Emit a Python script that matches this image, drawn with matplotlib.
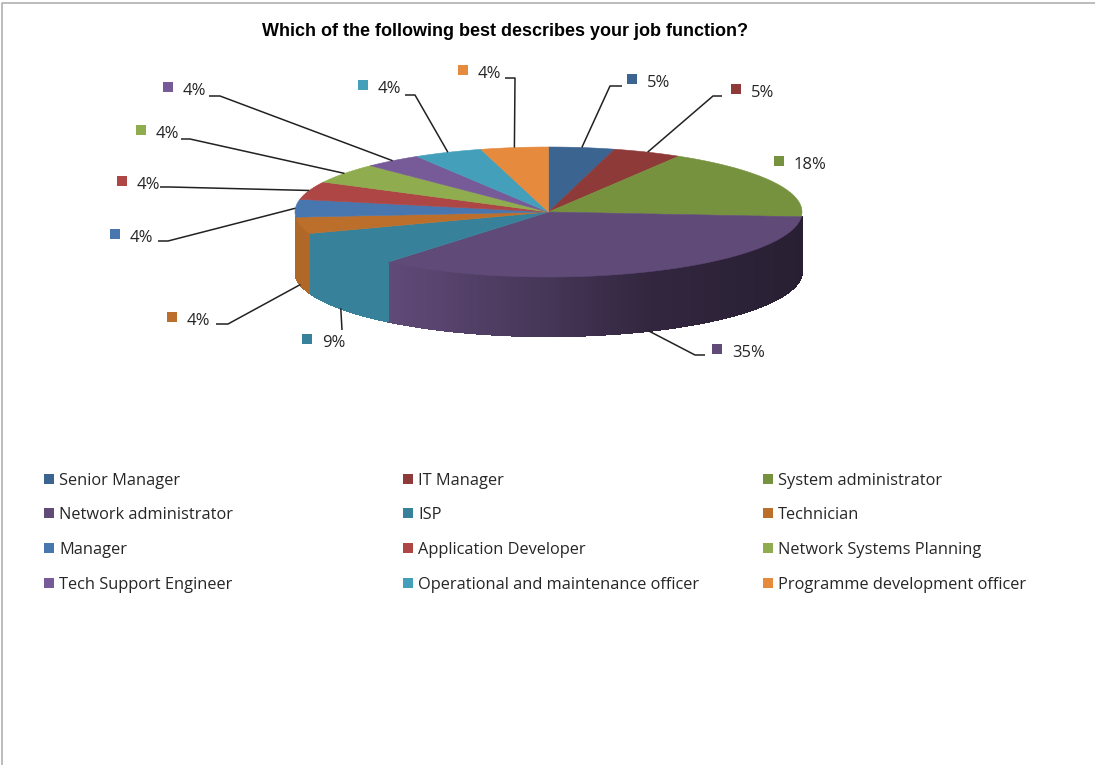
import numpy as np
import matplotlib
matplotlib.use("Agg")
import matplotlib.pyplot as plt
from matplotlib.collections import PolyCollection
from matplotlib.patches import Polygon, Rectangle

# data
title = "Which of the following best describes your job function?"
categories = ["Senior Manager", "IT Manager", "System administrator",
              "Network administrator", "ISP", "Technician",
              "Manager", "Application Developer", "Network Systems Planning",
              "Tech Support Engineer", "Operational and maintenance officer",
              "Programme development officer"]
pct_labels = ["5%", "5%", "18%", "35%", "9%", "4%", "4%", "4%", "4%", "4%", "4%", "4%"]
# visible size of each slice in the drawing (the perspective squeezes some of them)
shares = [4.2, 4.4, 17.6, 34.8, 8.7, 4.1, 4.4, 4.5, 5.0, 3.7, 4.4, 4.3]
colors = ["#3c6491", "#8e3a38", "#77923f", "#604a78", "#37829a", "#bb6f2b",
          "#4877b0", "#ad4644", "#8fac4e", "#775a98", "#44a0ba", "#e68a3e"]
# slices whose side wall can be seen, with how much the wall is darkened
wall_shade = {3: None, 4: 1.0, 5: 0.94}

# layout, everything in pixels of the 1095x765 picture
cx, cy, rx, ry, depth = 548.5, 212.0, 253.5, 65.0, 59.0
label_pos = [(632, 79), (736, 89), (779, 161), (717, 349), (307, 339), (172, 317),
             (115, 234), (122, 181), (141, 130), (168, 87), (363, 85), (463, 70)]
leader_elbow = [[(610, 86), (622, 86)], [(713, 96), (722, 96)], None,
                [(695, 355), (705, 355)], [(342, 330)], [(228, 324), (216, 324)],
                [(168, 241), (158, 241)], [(170, 187), (160, 187)], [(190, 139), (181, 139)],
                [(220, 96), (209, 96)], [(415, 95), (405, 95)], [(515, 78), (505, 78)]]
legend_x = [49, 408, 768]
legend_y = [479, 513, 548, 583]
text_color = "#262626"

plt.rcParams["font.family"] = ["Open Sans", "DejaVu Sans"]

fig = plt.figure(figsize=(10.95, 7.65), dpi=100)
ax = fig.add_axes([0, 0, 1, 1])
ax.set_xlim(0, 1095)
ax.set_ylim(765, 0)
ax.axis("off")


def rim(t):
    # t is clockwise from 12 o'clock, in radians
    return cx + rx * np.sin(t), cy - ry * np.cos(t)


def side_shade(x):
    # side wall goes darker towards the right
    return np.interp((x - cx) / rx, [-1, -0.63, 0, 0.4, 1], [1.0, 1.0, 0.72, 0.52, 0.42])


cum = np.cumsum([0] + shares) / sum(shares) * 2 * np.pi
mid = (cum[:-1] + cum[1:]) / 2

# side wall
for i, shade in wall_shade.items():
    ts = np.linspace(cum[i], cum[i + 1], max(int((cum[i + 1] - cum[i]) * 120), 2))
    quads, cols = [], []
    base = np.array(matplotlib.colors.to_rgb(colors[i]))
    for t0, t1 in zip(ts[:-1], ts[1:]):
        x0, y0 = rim(t0)
        x1, y1 = rim(t1)
        quads.append([(x0, y0), (x1, y1), (x1, y1 + depth), (x0, y0 + depth)])
        f = side_shade((x0 + x1) / 2) if shade is None else shade
        cols.append(base * f)
    ax.add_collection(PolyCollection(quads, facecolors=cols, edgecolors=cols,
                                     linewidths=1.0, antialiaseds=False))

# top face
for i in range(len(shares)):
    ts = np.linspace(cum[i], cum[i + 1], 60)
    xs, ys = rim(ts)
    pts = [(cx, cy)] + list(zip(xs, ys))
    ax.add_patch(Polygon(pts, closed=True, facecolor=colors[i], edgecolor=colors[i], linewidth=0.4))

# labels and leader lines
for i, (mx, my) in enumerate(label_pos):
    ax.add_patch(Rectangle((mx - 5, my - 5), 10, 10, facecolor=colors[i], edgecolor="none"))
    ax.text(mx + 15, my + 3.5, pct_labels[i], fontsize=12, color=text_color, va="center", ha="left")
    if leader_elbow[i] is None:
        continue
    x0, y0 = rim(mid[i])
    if i in wall_shade:
        y0 += depth
    pts = [(x0, y0)] + leader_elbow[i]
    ax.plot([p[0] for p in pts], [p[1] for p in pts], color="#222222", lw=1.1, solid_capstyle="butt")

# legend, filled row by row
for i, name in enumerate(categories):
    lx = legend_x[i % 3]
    ly = legend_y[i // 3]
    ax.add_patch(Rectangle((lx - 5, ly - 5), 10, 10, facecolor=colors[i], edgecolor="none"))
    ax.text(lx + 10, ly + 2, name, fontsize=11.8, color=text_color, va="center", ha="left")

ax.text(505.5, 31, title, fontsize=13, fontweight="bold", family=["Liberation Sans", "DejaVu Sans"],
        color="black", ha="center", va="center")

# chart frame, only top and left are in the crop
ax.plot([2, 2, 1095], [765, 3, 3], color="#b0b0b0", lw=1.2)

fig.savefig("out.png", dpi=100)
